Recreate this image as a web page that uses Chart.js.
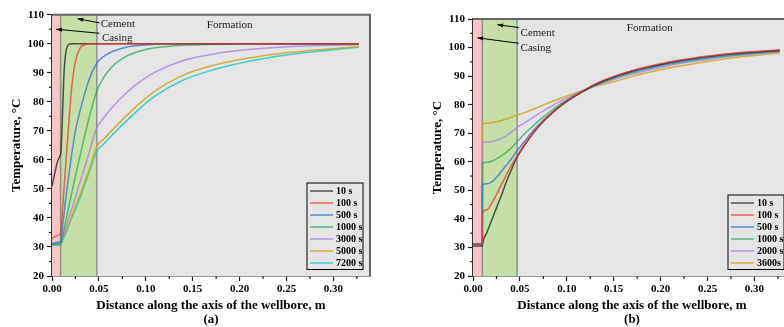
<!DOCTYPE html>
<html>
<head>
<meta charset="utf-8">
<script src="https://cdn.jsdelivr.net/npm/chart.js@4.4.1/dist/chart.umd.min.js"></script>
<style>
    html, body { margin: 0; padding: 0; background: #fff; overflow: hidden; width: 784px; height: 327px; }
    .panel { position: absolute; top: 0; width: 392px; height: 327px; }
    #wrapA { left: 0; }
    #wrapB { left: 421px; }
</style>
</head>
<body>
<div class="panel" id="wrapA"><canvas id="chartA" width="392" height="327"></canvas></div>
<div class="panel" id="wrapB"><canvas id="chartB" width="392" height="327"></canvas></div>
<script>
// tick labels
const distTicks = [0, 0.05, 0.10, 0.15, 0.20, 0.25, 0.30];
const tempTicks = [20, 30, 40, 50, 60, 70, 80, 90, 100, 110];

// panel (a) - distance from wellbore wall (m) and temperature (°C)
const labelsA = ['10 s', '100 s', '500 s', '1000 s', '3000 s', '5000 s', '7200 s'];
const distA = [0, 0.003, 0.006, 0.009, 0.0095, 0.011, 0.013, 0.015, 0.018, 0.021, 0.025, 0.03, 0.035, 0.04, 0.0475, 0.055, 0.065, 0.08, 0.095, 0.11, 0.14, 0.175, 0.21, 0.25, 0.29, 0.327];
const t10sA = [51, 55.5, 59.5, 61.8, 62.5, 74, 91, 97.5, 99.8, 100, 100, 100, 100, 100, 100, 100, 100, 100, 100, 100, 100, 100, 100, 100, 100, 100];
const t100sA = [33, 33.5, 34, 34.5, 35, 42, 51, 60, 73, 85, 94, 98.6, 99.6, 100, 100, 100, 100, 100, 100, 100, 100, 100, 100, 100, 100, 100];
const t500sA = [31.2, 31.4, 31.6, 31.8, 32, 36.5, 42, 47.5, 55, 62, 70, 77, 83, 88, 93.2, 95.6, 97.4, 98.9, 99.5, 99.8, 100, 100, 100, 100, 100, 100];
const t1000sA = [30.8, 30.9, 31, 31, 31.2, 33.5, 36.5, 39.5, 44, 48.5, 54.5, 61.5, 68.5, 75, 83.5, 88.3, 92.4, 95.8, 97.6, 98.6, 99.5, 99.8, 100, 100, 100, 100];
const t3000sA = [31, 31.1, 31.2, 31.4, 31.5, 33, 35, 37, 40, 43, 47, 52.5, 57.5, 63, 70.8, 74.4, 78.4, 83.3, 87.2, 90.2, 94.2, 96.6, 98, 99, 99.4, 99.7];
const t5000sA = [30.8, 30.85, 30.9, 31, 31, 32.5, 34, 35.5, 38, 40.5, 44, 48, 52.5, 57, 64.5, 67.1, 70.5, 75.4, 79.9, 83.8, 89.2, 92.8, 95.1, 96.9, 98.1, 99];
const t7200sA = [30.5, 30.6, 30.6, 30.7, 30.8, 32, 33.5, 35, 37.5, 40, 43, 47, 51.5, 56, 62.8, 65.4, 68.8, 73.6, 78.1, 82, 87.5, 91.3, 94, 96.1, 97.6, 98.8];

// panel (b)
const labelsB = ['10 s', '100 s', '500 s', '1000 s', '2000 s', '3600s'];
const distB = [0, 0.005, 0.0099, 0.0101, 0.015, 0.02, 0.025, 0.03, 0.035, 0.04, 0.047, 0.055, 0.065, 0.075, 0.085, 0.095, 0.105, 0.115, 0.13, 0.15, 0.17, 0.19, 0.21, 0.23, 0.255, 0.28, 0.30, 0.327];
const t10sB = [30.5, 30.5, 30.6, 31.2, 35.4, 39.6, 43.8, 48, 52.5, 56.5, 61.6, 65.8, 70.3, 74.1, 77.2, 79.9, 82.2, 84.2, 87.0, 89.7, 91.8, 93.4, 94.8, 95.9, 97.0, 97.9, 98.4, 99.0];
const t100sB = [31.2, 31.2, 31.2, 42, 43.2, 45.5, 48.5, 51.8, 55, 58.2, 62, 66.2, 70.6, 74.3, 77.4, 80.1, 82.4, 84.4, 87.2, 89.9, 92.0, 93.6, 95.0, 96.1, 97.2, 98.1, 98.6, 99.2];
const t500sB = [31.2, 31.2, 31.2, 52, 52.3, 53, 54.5, 56.5, 58.6, 60.6, 63.8, 67.2, 71.2, 74.6, 77.6, 80.2, 82.4, 84.3, 86.9, 89.5, 91.5, 93.1, 94.5, 95.6, 96.8, 97.7, 98.2, 98.9];
const t1000sB = [31.2, 31.2, 31.2, 59.6, 59.8, 60.2, 61, 62, 63.2, 64.6, 67, 69.8, 72.9, 75.7, 78.3, 80.6, 82.6, 84.3, 86.7, 89.2, 91.2, 92.8, 94.2, 95.3, 96.5, 97.4, 98.0, 98.7];
const t2000sB = [31.2, 31.2, 31.2, 66.8, 66.9, 67.1, 67.5, 68.2, 69, 70.2, 72, 73.6, 75.7, 77.8, 79.7, 81.5, 83.1, 84.5, 86.6, 88.8, 90.7, 92.3, 93.7, 94.9, 96.1, 97.1, 97.7, 98.5];
const t3600sB = [31.2, 31.2, 31.2, 73.4, 73.5, 73.7, 74, 74.4, 74.9, 75.5, 76.3, 77.2, 78.5, 79.9, 81.2, 82.4, 83.6, 84.7, 86.4, 88.0, 89.9, 91.5, 92.9, 94.1, 95.4, 96.5, 97.2, 98.1];

const colorsA = ['rgba(30,30,30,0.75)', 'rgba(235,55,40,0.75)', 'rgba(40,110,220,0.75)', 'rgba(40,170,90,0.75)',
    'rgba(170,120,230,0.75)', 'rgba(210,160,20,0.8)', 'rgba(20,200,200,0.8)'];
const colorsB = colorsA.slice(0, 6);

const FONT = '"Liberation Serif", "Times New Roman", serif';
Chart.defaults.font.family = FONT;
Chart.defaults.color = '#000';

// background layers, frame, minor ticks, notes and legend
const panelPlugin = {
    id: 'panel',
    beforeDatasetsDraw(chart, args, opts) {
        const { ctx, chartArea: a, scales: { x } } = chart;
        const xc = x.getPixelForValue(opts.casingEnd);
        const xm = x.getPixelForValue(opts.cementEnd);
        const h = a.bottom - a.top;
        ctx.save();
        ctx.fillStyle = '#e5e5e5';
        ctx.fillRect(a.left, a.top, a.right - a.left, h);
        ctx.fillStyle = '#f9c5c5';
        ctx.fillRect(a.left, a.top, xc - a.left, h);
        ctx.fillStyle = '#c6dea8';
        ctx.fillRect(xc, a.top, xm - xc, h);
        ctx.strokeStyle = '#8f8f8f';
        ctx.lineWidth = 1.5;
        [xc, xm].forEach(px => {
            ctx.beginPath();
            ctx.moveTo(px, a.top);
            ctx.lineTo(px, a.bottom);
            ctx.stroke();
        });
        ctx.restore();
    },
    afterDraw(chart, args, opts) {
        const { ctx, chartArea: a, scales: { x, y } } = chart;
        ctx.save();
        // top + right frame
        ctx.strokeStyle = '#666';
        ctx.lineWidth = 2;
        ctx.beginPath();
        ctx.moveTo(a.left, a.top);
        ctx.lineTo(a.right, a.top);
        ctx.lineTo(a.right, a.bottom);
        ctx.stroke();
        // minor ticks
        ctx.strokeStyle = '#222';
        ctx.lineWidth = 1.2;
        for (let v = 25; v < 110; v += 10) {
            const py = y.getPixelForValue(v);
            ctx.beginPath();
            ctx.moveTo(a.left, py);
            ctx.lineTo(a.left - 3, py);
            ctx.stroke();
        }
        for (let v = 0.025; v < 0.335; v += 0.05) {
            const px = x.getPixelForValue(v);
            ctx.beginPath();
            ctx.moveTo(px, a.bottom);
            ctx.lineTo(px, a.bottom + 3);
            ctx.stroke();
        }
        // notes with arrows
        ctx.font = '11px ' + FONT;
        ctx.fillStyle = '#222';
        ctx.textBaseline = 'middle';
        opts.notes.forEach(n => {
            ctx.fillText(n.text, x.getPixelForValue(n.x), y.getPixelForValue(n.y));
            if (n.from) {
                const x1 = x.getPixelForValue(n.from[0]), y1 = y.getPixelForValue(n.from[1]);
                const x2 = x.getPixelForValue(n.to[0]), y2 = y.getPixelForValue(n.to[1]);
                ctx.strokeStyle = '#000';
                ctx.lineWidth = 1;
                ctx.beginPath();
                ctx.moveTo(x1, y1);
                ctx.lineTo(x2, y2);
                ctx.stroke();
                const ang = Math.atan2(y2 - y1, x2 - x1);
                ctx.fillStyle = '#000';
                ctx.beginPath();
                ctx.moveTo(x2, y2);
                ctx.lineTo(x2 - 6 * Math.cos(ang - 0.35), y2 - 6 * Math.sin(ang - 0.35));
                ctx.lineTo(x2 - 6 * Math.cos(ang + 0.35), y2 - 6 * Math.sin(ang + 0.35));
                ctx.closePath();
                ctx.fill();
                ctx.fillStyle = '#222';
            }
        });
        // legend box
        const sets = chart.data.datasets;
        const w = 56, rowH = 12;
        const bh = sets.length * rowH + 2.5;
        const right = a.right - 7, bottom = a.bottom - 6.5;
        const left = right - w, top = bottom - bh;
        ctx.strokeStyle = '#000';
        ctx.lineWidth = 1;
        ctx.strokeRect(left, top, w, bh);
        ctx.font = 'bold 10px ' + FONT;
        sets.forEach((ds, i) => {
            const cy = top + 8 + i * rowH;
            ctx.strokeStyle = ds.borderColor;
            ctx.lineWidth = 1.5;
            ctx.beginPath();
            ctx.moveTo(left + 3, cy);
            ctx.lineTo(left + 26, cy);
            ctx.stroke();
            ctx.fillStyle = '#000';
            ctx.fillText(ds.label, left + 29, cy + 0.5);
        });
        ctx.restore();
    }
};

function makeChart(id, dist, series, labels, colors, panel, letter, topPad) {
    const datasets = series.map((s, i) => ({
        label: labels[i],
        data: dist.map((d, j) => ({ x: d, y: s[j] })),
        borderColor: colors[i],
        borderWidth: 1.5,
        pointRadius: 0,
        cubicInterpolationMode: 'monotone',
        fill: false,
        order: i === 1 ? -1 : i    // 100 s drawn on top
    }));
    return new Chart(document.getElementById(id), {
        type: 'line',
        data: { datasets },
        options: {
            responsive: false,
            animation: false,
            layout: { padding: { left: 0, right: 22, top: topPad, bottom: 0 } },
            plugins: { legend: { display: false }, tooltip: { enabled: false }, panel },
            scales: {
                x: {
                    type: 'linear', min: 0, max: 0.339,
                    afterBuildTicks: s => { s.ticks = distTicks.map(v => ({ value: v })); },
                    afterFit: s => { s.height = 51; },
                    ticks: { callback: v => v.toFixed(2), font: { size: 11, weight: 'bold' }, padding: 2, maxRotation: 0, autoSkip: false, color: '#000' },
                    grid: { drawOnChartArea: false, tickLength: 5, tickColor: '#222', tickWidth: 1.2 },
                    border: { color: '#333', width: 1.5 },
                    title: { display: true, text: ['Distance along the axis of the wellbore, m', letter], font: { size: 13, weight: 'bold', lineHeight: '14px' }, padding: 0, color: '#000' }
                },
                y: {
                    type: 'linear', min: 20, max: 110,
                    afterBuildTicks: s => { s.ticks = tempTicks.map(v => ({ value: v })); },
                    afterFit: s => { s.width = 52; },
                    ticks: { font: { size: 11, weight: 'bold' }, padding: 3, autoSkip: false, color: '#000' },
                    grid: { drawOnChartArea: false, tickLength: 5, tickColor: '#222', tickWidth: 1.2 },
                    border: { color: '#333', width: 1.5 },
                    title: { display: true, text: 'Temperature, °C', font: { size: 13, weight: 'bold', lineHeight: '14px' }, padding: { top: 10, bottom: 0 }, color: '#000' }
                }
            }
        },
        plugins: [panelPlugin]
    });
}

makeChart('chartA', distA, [t10sA, t100sA, t500sA, t1000sA, t3000sA, t5000sA, t7200sA], labelsA, colorsA, {
    casingEnd: 0.0092, cementEnd: 0.0478,
    notes: [
        { text: 'Cement', x: 0.052, y: 106.6, from: [0.0506, 107.2], to: [0.0272, 108.6] },
        { text: 'Casing', x: 0.0532, y: 102.1, from: [0.0506, 103.6], to: [0.0046, 105] },
        { text: 'Formation', x: 0.165, y: 106.4 }
    ]
}, '(a)', 14.7);

makeChart('chartB', distB, [t10sB, t100sB, t500sB, t1000sB, t2000sB, t3600sB], labelsB, colorsB, {
    casingEnd: 0.0099, cementEnd: 0.047,
    notes: [
        { text: 'Cement', x: 0.0507, y: 105.1, from: [0.0489, 107], to: [0.026, 108] },
        { text: 'Casing', x: 0.0507, y: 99.7, from: [0.0489, 101.5], to: [0.0047, 103.4] },
        { text: 'Formation', x: 0.164, y: 106.9 }
    ]
}, '(b)', 19);
</script>
</body>
</html>
